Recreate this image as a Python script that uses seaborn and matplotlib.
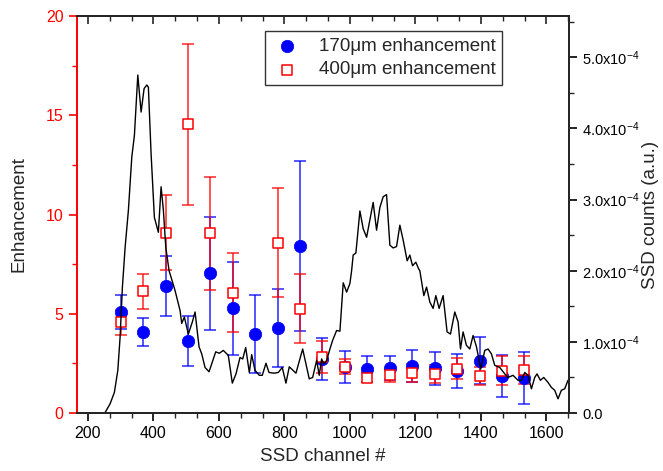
import numpy as np
import pandas as pd
import matplotlib
matplotlib.use("Agg")
import matplotlib.pyplot as plt
from matplotlib.ticker import MultipleLocator, AutoMinorLocator, FuncFormatter
import seaborn as sns

# Enhancement measurements (left axis)
channels_170 = [300, 368, 438, 505, 574, 642, 711, 780, 849, 916, 985, 1053,
                1122, 1190, 1259, 1327, 1396, 1464, 1533]
enh_170 = [5.07, 4.08, 6.40, 3.63, 7.04, 5.27, 3.97, 4.28, 8.41, 2.72, 2.33, 2.20,
           2.27, 2.37, 2.25, 2.10, 2.64, 1.85, 1.77]
err_170 = [0.86, 0.72, 1.52, 1.26, 2.84, 2.35, 1.97, 1.95, 4.27, 1.07, 0.80, 0.66,
           0.61, 0.79, 0.82, 0.86, 1.20, 1.05, 1.32]

channels_400 = [300, 368, 438, 505, 574, 642, 780, 849, 916, 985, 1053, 1122,
                1190, 1259, 1327, 1396, 1464, 1533]
enh_400 = [4.57, 6.13, 9.08, 14.54, 9.05, 6.06, 8.57, 5.26, 2.84, 2.33, 1.78, 1.91,
           2.02, 1.96, 2.23, 1.88, 2.14, 2.15]
err_400 = [0.62, 0.87, 1.90, 4.07, 2.85, 2.00, 2.75, 1.74, 0.80, 0.38, 0.23, 0.33,
           0.47, 0.46, 0.52, 0.45, 0.74, 0.70]

# SSD spectrum (right axis), counts in units of 1e-4
ssd_channel = [253, 268, 281, 291.5, 298.5, 305.5, 313.8, 323.8, 334.2, 342.1, 346.4,
               352.5, 362.6, 371.7, 380, 384.8, 393, 403.1, 415.3, 423.6, 430.6,
               437.9, 448, 466.3, 481.5, 486.7, 494.6, 506.8, 519, 527.3, 539.5,
               547.7, 557.8, 570, 590.4, 601.4, 613.6, 628.8, 641, 652.3, 664.5,
               672.8, 681.9, 692.9, 700.2, 710.3, 723.4, 732.5, 743.8, 753, 768.2,
               781.3, 793.5, 804.8, 814.9, 835.3, 855.8, 875.9, 886.3, 898.5, 906.4,
               913.7, 920.7, 929, 939, 947.2, 959.4, 969.5, 979.6, 990, 1000,
               1005.2, 1010, 1018.3, 1030.5, 1040.6, 1051, 1071, 1081.4, 1091.5,
               1101.6, 1111.9, 1122, 1132, 1142.4, 1152.5, 1162.6, 1174.8, 1183,
               1191.2, 1201.3, 1209.5, 1213.5, 1225.7, 1234, 1244, 1254, 1262.3,
               1272.3, 1284.5, 1296.7, 1307, 1320.2, 1330.3, 1337.6, 1345.5, 1355.9,
               1366, 1376, 1386.4, 1399.5, 1411.7, 1421.8, 1432.1, 1442.2, 1457.5,
               1472.8, 1482.8, 1498, 1513.3, 1523.7, 1533.7, 1543.8, 1554.2, 1564.2,
               1571.2, 1581.6, 1591.7, 1604.8, 1615.1, 1625.2, 1635.3, 1645.6,
               1655.7, 1665.8]
ssd_counts_e4 = [0.01, 0.13, 0.29, 0.60, 1.07, 1.77, 2.33, 2.85, 3.60, 3.90, 4.25,
                 4.75, 4.23, 4.56, 4.61, 4.58, 3.65, 2.75, 2.54, 3.18, 2.85,
                 2.33, 2.00, 1.72, 1.44, 1.26, 1.35, 1.11, 1.28, 1.42, 0.93,
                 0.83, 0.64, 0.58, 0.86, 0.84, 0.88, 0.81, 0.42, 0.55, 0.78,
                 0.76, 0.92, 0.57, 0.82, 0.60, 0.53, 0.53, 0.70, 0.57, 0.56,
                 0.57, 0.64, 0.42, 0.65, 0.56, 0.90, 0.48, 0.50, 0.74, 0.53,
                 0.76, 0.69, 0.74, 0.90, 1.02, 1.16, 1.15, 1.83, 1.70, 1.82,
                 2.00, 2.22, 2.25, 2.84, 2.59, 2.47, 2.96, 2.57, 2.89,
                 3.04, 3.07, 2.36, 2.32, 2.34, 2.64, 2.43, 2.14, 2.22,
                 2.07, 2.12, 2.03, 2.00, 1.65, 1.77, 1.56, 1.47, 1.65,
                 1.47, 1.65, 1.14, 1.11, 1.42, 1.28, 0.90, 1.14, 0.95,
                 0.90, 1.09, 0.93, 0.62, 0.88, 0.90, 0.83, 0.67, 0.64,
                 0.55, 0.50, 0.53, 0.46, 0.46, 0.57, 0.53, 0.34, 0.50,
                 0.55, 0.46, 0.50, 0.43, 0.36, 0.32, 0.20, 0.32,
                 0.34, 0.46]

x_ticks = [200, 400, 600, 800, 1000, 1200, 1400, 1600]

sns.set_style("ticks")
plt.rcParams["font.family"] = ["Liberation Sans", "DejaVu Sans"]
plt.rcParams["mathtext.fontset"] = "custom"
plt.rcParams["mathtext.rm"] = "Liberation Sans"
plt.rcParams["mathtext.it"] = "Liberation Sans:italic"

fig = plt.figure(figsize=(6.63, 4.71), dpi=100)
ax = fig.add_axes([0.1157, 0.1231, 0.7421, 0.8429])
ax2 = ax.twinx()

df170 = pd.DataFrame({"ch": channels_170, "enh": enh_170, "err": err_170})
df400 = pd.DataFrame({"ch": channels_400, "enh": enh_400, "err": err_400})

blue = "#0000ff"
red = "#ff0000"

ax.errorbar(df170["ch"], df170["enh"], yerr=df170["err"], fmt="none",
            ecolor=blue, elinewidth=1.1, capsize=4.5, capthick=1.1, alpha=0.85, zorder=2)
ax.errorbar(df400["ch"], df400["enh"], yerr=df400["err"], fmt="none",
            ecolor=red, elinewidth=1.1, capsize=4.5, capthick=1.1, alpha=0.85, zorder=3)
sns.scatterplot(data=df170, x="ch", y="enh", ax=ax, marker="o", s=80,
                color=blue, edgecolor=blue, linewidth=0.5, zorder=4,
                label="170\u03bcm enhancement", legend=False)
sns.scatterplot(data=df400, x="ch", y="enh", ax=ax, marker="s", s=62,
                facecolor="white", edgecolor=red, linewidth=1.1, zorder=5,
                label="400\u03bcm enhancement", legend=False)

ssd = pd.DataFrame({"ch": ssd_channel, "counts": np.array(ssd_counts_e4) * 1e-4})
sns.lineplot(data=ssd, x="ch", y="counts", ax=ax2, color="black", lw=1.0,
             sort=False, estimator=None)

# Axis ranges and ticks
ax.set_xlim(166, 1668)
ax.set_ylim(0, 20)
ax2.set_ylim(0, 5.58e-4)

ax.set_xticks(x_ticks)
ax.xaxis.set_minor_locator(AutoMinorLocator(3))
ax.yaxis.set_major_locator(MultipleLocator(5))
ax.yaxis.set_minor_locator(MultipleLocator(2.5))
ax2.yaxis.set_major_locator(MultipleLocator(1e-4))
ax2.yaxis.set_minor_locator(MultipleLocator(0.5e-4))


def sci_fmt(v, pos):
    if abs(v) < 1e-12:
        return "0.0"
    return "%.1fx10$^{-4}$" % (v / 1e-4)


ax2.yaxis.set_major_formatter(FuncFormatter(sci_fmt))

ax.tick_params(axis="x", which="major", direction="out", length=6, width=1.2,
               labelsize=11.5, colors="black", top=False)
ax.tick_params(axis="x", which="minor", direction="out", length=3.5, width=1.0, top=False)
ax.tick_params(axis="y", which="major", direction="out", length=6, width=1.2,
               labelsize=11.5, colors=red)
ax.tick_params(axis="y", which="minor", direction="out", length=3.5, width=1.0, colors=red)
ax2.tick_params(axis="y", which="major", direction="out", length=6, width=1.2,
                labelsize=10.5, colors="black")
ax2.tick_params(axis="y", which="minor", direction="out", length=3.5, width=1.0)

# Top axis ticks point inward
sec = ax.secondary_xaxis("top")
sec.set_xticks(x_ticks)
sec.xaxis.set_minor_locator(AutoMinorLocator(3))
sec.tick_params(axis="x", which="major", direction="in", length=6, width=1.2, labeltop=False)
sec.tick_params(axis="x", which="minor", direction="in", length=3.5, width=1.0)
sec.spines["top"].set_linewidth(1.4)

for s in ["top", "bottom", "right"]:
    ax.spines[s].set_linewidth(1.4)
    ax2.spines[s].set_linewidth(1.4)
ax.spines["left"].set_color(red)
ax.spines["left"].set_linewidth(1.4)
ax2.spines["left"].set_visible(False)

ax.set_xlabel("SSD channel #", fontsize=13.5, labelpad=5)
ax.set_ylabel("Enhancement", fontsize=13.5, labelpad=13)
ax2.set_ylabel("SSD counts (a.u.)", fontsize=13.5, labelpad=2)

handles, labels = ax.get_legend_handles_labels()
leg = ax2.legend(handles, labels, loc="upper left", bbox_to_anchor=(0.383, 0.962),
                 frameon=True, fancybox=False, fontsize=13.5, handletextpad=0.9,
                 borderpad=0.35, labelspacing=0.35, handlelength=1.6, borderaxespad=0)
leg.get_frame().set_edgecolor("black")
leg.get_frame().set_linewidth(1.0)

fig.savefig("out.png", dpi=100)
